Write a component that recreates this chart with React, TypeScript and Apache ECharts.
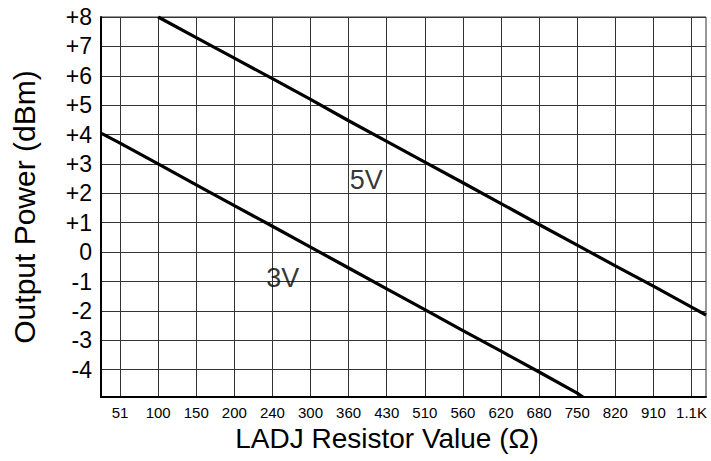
import React, { useEffect, useRef } from 'react';
import * as echarts from 'echarts';

// X categories (resistor values) – placed at integer positions 0..15
const categories = ['51', '100', '150', '200', '240', '300', '360', '430', '510', '560', '620', '680', '750', '820', '910', '1.1K'];
// Y tick values (dBm)
const yTicks = [-4, -3, -2, -1, 0, 1, 2, 3, 4, 5, 6, 7, 8];

// 5V curve, read at each category (null = outside plot)
const v5 = [null, 8.0, 7.3, 6.6, 5.9, 5.2, 4.47, 3.77, 3.06, 2.36, 1.65, 0.94, 0.24, -0.47, -1.16, -1.87];
// 3V curve, read at each category
const v3 = [3.71, 3.0, 2.29, 1.58, 0.88, 0.17, -0.54, -1.25, -1.96, -2.67, -3.37, -4.08, -4.8, null, null, null];

// axis extents in category-index units
const X_MIN = -0.5;
const X_MAX = 15.38;
const Y_MIN = -4.93;
const Y_MAX = 8;

// where the curves meet the plot border
const v5End = [X_MAX, -2.14];
const v3Start = [X_MIN, 4.05];
const v3End = [12.15, -4.93];

// curve labels [x index, value, text]
const curveLabels: [number, number, string][] = [
  [6.46, 2.46, '5V'],
  [4.27, -0.89, '3V'],
];

const FONT = 'Liberation Sans, Arial, Helvetica, sans-serif';

function toPoints(vals: (number | null)[]) {
  const pts: number[][] = [];
  vals.forEach((v, i) => {
    if (v !== null) pts.push([i, v]);
  });
  return pts;
}

export default function App() {
  const ref = useRef<HTMLDivElement>(null);
  useEffect(() => {
    document.body.style.margin = '0';
    if (!ref.current) return;
    const chart = echarts.init(ref.current, null, { renderer: 'svg' });
    const idx = categories.map((_, i) => i);
    chart.setOption({
      animation: false,
      backgroundColor: '#fff',
      textStyle: { fontFamily: FONT, color: '#000' },
      grid: {
        left: 101,
        top: 17,
        right: 5,
        bottom: 64,
        show: true,
        borderColor: '#333',
        borderWidth: 1,
        containLabel: false,
        outerBoundsMode: 'none',
      },
      xAxis: {
        type: 'value',
        min: X_MIN,
        max: X_MAX,
        name: 'LADJ Resistor Value (Ω)',
        nameLocation: 'middle',
        nameGap: 21,
        nameTextStyle: { fontSize: 28, color: '#000', fontFamily: FONT, padding: [0, 33, 0, 0] },
        axisLine: { show: true, onZero: false, lineStyle: { color: '#000', width: 2 } },
        axisTick: { show: false, customValues: idx },
        axisLabel: {
          customValues: idx,
          formatter: (v: number) => categories[Math.round(v)],
          fontSize: 15,
          color: '#000',
          fontFamily: FONT,
          margin: 8,
        },
        splitLine: { show: true, lineStyle: { color: '#333', width: 1 } },
      },
      yAxis: {
        type: 'value',
        min: Y_MIN,
        max: Y_MAX,
        name: 'Output Power (dBm)',
        nameLocation: 'middle',
        nameGap: 62,
        nameTextStyle: { fontSize: 30, color: '#000', fontFamily: FONT },
        axisLine: { show: true, onZero: false, lineStyle: { color: '#000', width: 2 } },
        axisTick: { show: false, customValues: yTicks },
        axisLabel: {
          customValues: yTicks,
          formatter: (v: number) => (v > 0 ? '+' + v : String(v)),
          fontSize: 23,
          color: '#000',
          fontFamily: FONT,
          margin: 9,
        },
        splitLine: { show: true, lineStyle: { color: '#333', width: 1 } },
      },
      series: [
        {
          name: '5V',
          type: 'line',
          data: [...toPoints(v5), v5End],
          showSymbol: false,
          symbol: 'none',
          lineStyle: { color: '#000', width: 3.2 },
          z: 5,
        },
        {
          name: '3V',
          type: 'line',
          data: [v3Start, ...toPoints(v3), v3End],
          showSymbol: false,
          symbol: 'none',
          lineStyle: { color: '#000', width: 3.2 },
          z: 5,
        },
        {
          name: 'labels',
          type: 'scatter',
          data: curveLabels.map((c) => ({ value: [c[0], c[1]], name: c[2] })),
          symbolSize: 0,
          itemStyle: { color: 'transparent' },
          label: {
            show: true,
            position: 'inside',
            formatter: (p: any) => p.name,
            fontSize: 27,
            color: '#000',
            fontFamily: FONT,
          },
          z: 6,
        },
      ],
    });
    return () => chart.dispose();
  }, []);
  return <div ref={ref} style={{ width: 711, height: 461 }} />;
}
